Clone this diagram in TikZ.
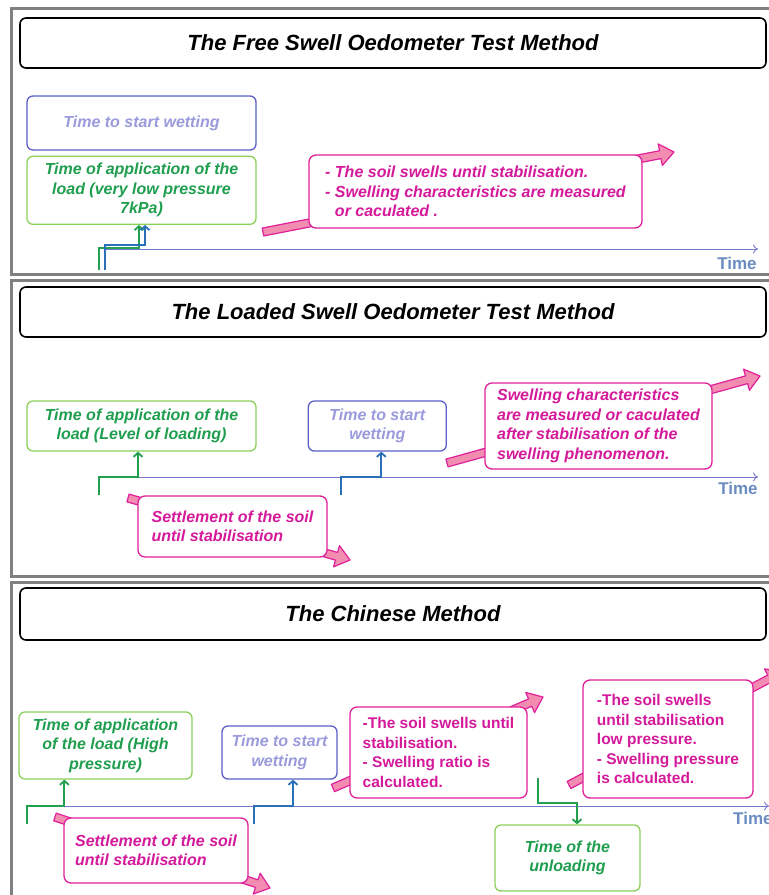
\documentclass[tikz,border=0pt]{standalone}
\usepackage{fontspec}
\setmainfont{Liberation Sans}
\usetikzlibrary{arrows.meta,calc,positioning}

\definecolor{wetblue}{HTML}{5B5FC7}
\definecolor{wettext}{HTML}{9A9ADC}
\definecolor{loadgreen}{HTML}{8CD05A}
\definecolor{loadtext}{HTML}{1E9E4E}
\definecolor{loadline}{HTML}{22A050}
\definecolor{wetline}{HTML}{2A70B8}
\definecolor{notemag}{HTML}{E0209A}
\definecolor{notetext}{HTML}{D4199A}
\definecolor{notepink}{HTML}{F28CB0}
\definecolor{axisblue}{HTML}{7777CC}
\definecolor{timeblue}{HTML}{6A8CC0}
\definecolor{framegray}{HTML}{808080}

\newcommand\boxfont{\fontsize{16}{19.5}\selectfont\bfseries\itshape}
\newcommand\uprfont{\fontsize{15.5}{19.5}\selectfont\bfseries}
\newcommand\titlefont{\fontsize{22}{26}\selectfont\bfseries\itshape}

\tikzstyle{frame} = [draw=framegray, line width=3pt]
\tikzstyle{titlebox} = [draw=black, line width=1.6pt, rounded corners=6pt, minimum width=746pt, minimum height=50pt, font=\titlefont]
\tikzstyle{wetbox} = [draw=wetblue, line width=1.3pt, rounded corners=6pt, fill=white, text=wettext, align=center, font=\boxfont]
\tikzstyle{loadbox} = [draw=loadgreen, line width=1.3pt, rounded corners=6pt, fill=white, text=loadtext, align=center, font=\boxfont]
\tikzstyle{notebox} = [draw=notemag, line width=1.3pt, rounded corners=7pt, fill=white, text=notetext, align=left, font=\boxfont]
\tikzstyle{bigarrow} = [fill=notepink, draw=notemag, line width=1.2pt, line join=round]
\tikzstyle{timeaxis} = [draw=axisblue, line width=0.9pt, -{To[length=5pt,width=9pt]}]
\tikzstyle{timelabel} = [text=timeblue, font=\fontsize{17}{20}\selectfont\bfseries, inner sep=0pt]
\tikzstyle{loadstep} = [draw=loadline, line width=1.8pt, -{Straight Barb[length=4pt,width=9pt]}]
\tikzstyle{wetstep} = [draw=wetline, line width=1.8pt, -{Straight Barb[length=4pt,width=9pt]}]

% thick pink arrow from #1 to #2
\newcommand\blockarrow[2]{%
  \coordinate (ba) at ($(#2)!14pt!(#1)$);
  \filldraw[bigarrow] ($(#1)!4pt!90:(#2)$) -- ($(ba)!4pt!90:(#2)$) -- ($(ba)!11pt!90:(#2)$) -- (#2)
    -- ($(ba)!11pt!-90:(#2)$) -- ($(ba)!4pt!-90:(#2)$) -- ($(#1)!4pt!-90:(#2)$) -- cycle;}

\begin{document}
\begin{tikzpicture}[x=1pt,y=-1pt]
    \useasboundingbox (0,0) rectangle (769,895);
    % panels
    \draw[frame] (11,8) rectangle (790,274);
    \draw[frame] (11,280) rectangle (790,576);
    \draw[frame] (11,582) rectangle (790,910);

    % time axes
    \coordinate (t1a) at (106,249);  \coordinate (t1b) at (758,249);
    \coordinate (t2a) at (99,477);   \coordinate (t2b) at (758,477);
    \coordinate (t3a) at (27,806);   \coordinate (t3b) at (769,806);
    \draw[timeaxis] (t1a) -- (t1b);
    \draw[timeaxis] (t2a) -- (t2b);
    \draw[timeaxis] (t3a) -- (t3b);
    \node (time1)[timelabel] at (737,263) {Time};
    \node (time2)[timelabel] at (738,488) {Time};
    \node (time3)[timelabel, anchor=west] at (733,818) {Time};

    % pink arrows behind the notes
    \coordinate (s1a) at (263,232);  \coordinate (s1b) at (674,152);
    \coordinate (s2a) at (128,498);  \coordinate (s2b) at (350,560);
    \coordinate (s3a) at (447,463);  \coordinate (s3b) at (760,376);
    \coordinate (s4a) at (55,817);   \coordinate (s4b) at (270,888);
    \coordinate (s5a) at (333,788);  \coordinate (s5b) at (543,697);
    \coordinate (s6a) at (569,785);  \coordinate (s6b) at (782,672);
    \blockarrow{s1a}{s1b}
    \blockarrow{s2a}{s2b}
    \blockarrow{s3a}{s3b}
    \blockarrow{s4a}{s4b}
    \blockarrow{s5a}{s5b}
    \blockarrow{s6a}{s6b}

    % create the nodes
    \node (title1)[titlebox] at (393,43) {The Free Swell Oedometer Test Method};
    \node (wet1)[wetbox, minimum width=229pt, minimum height=54pt] at (141.5,123) {Time to start wetting};
    \node (load1)[loadbox, below=5pt of wet1, minimum width=229pt, minimum height=68pt] {Time of application of the\\load (very low pressure\\7kPa)};
    \node (note1)[notebox, minimum width=333pt, minimum height=73pt] at (475.5,191.5) {- The soil swells until stabilisation.\\- Swelling characteristics are measured\\\phantom{- }or caculated .};

    \node (title2)[titlebox] at (393,312) {The Loaded Swell Oedometer Test Method};
    \node (load2)[loadbox, minimum width=229pt, minimum height=50pt] at (141.5,426) {Time of application of the\\load (Level of loading)};
    \node (wet2)[wetbox, right=51pt of load2, minimum width=138pt, minimum height=50pt] {Time to start\\wetting};
    \node (settle2)[notebox, minimum width=189pt, minimum height=61pt] at (232.5,526.5) {Settlement of the soil\\until stabilisation};
    \node (note2)[notebox, minimum width=227pt, minimum height=86pt] at (598.5,426) {Swelling characteristics\\are measured or caculated\\after stabilisation of the\\swelling phenomenon.};

    \node (title3)[titlebox, minimum height=52pt] at (393,614) {The Chinese Method};
    \node (load3)[loadbox, minimum width=173pt, minimum height=67pt] at (105.5,745.5) {Time of application\\of the load (High\\pressure)};
    \node (wet3)[wetbox, minimum width=115pt, minimum height=53pt] at (279.5,752.5) {Time to start\\wetting};
    \node (note3a)[notebox, font=\uprfont, minimum width=177pt, minimum height=91pt] at (438.5,752.5) {-The soil swells until\\stabilisation.\\- Swelling ratio is\\calculated.};
    \node (note3b)[notebox, font=\uprfont, minimum width=170pt, minimum height=118pt] at (668,739) {-The soil swells\\until stabilisation\\low pressure.\\- Swelling pressure\\is calculated.};
    \node (unload3)[loadbox, minimum width=145pt, minimum height=66pt] at (567.5,858) {Time of the\\unloading};
    \node (settle3)[notebox, minimum width=184pt, minimum height=65pt] at (156,850.5) {Settlement of the soil\\until stabilisation};

    % connect the nodes
    \coordinate (g1) at (99,270);  \coordinate (b1) at (105,270);
    \coordinate (g2) at (99,495);  \coordinate (b2) at (341,495);
    \coordinate (g3) at (27,824);  \coordinate (b3) at (254,824);
    \coordinate (u3) at (538,778);
    \draw[loadstep] (g1) -- ++(0,-22) -| ([xshift=-2.5pt]load1.south);
    \draw[wetstep] (b1) -- ++(0,-25) -| ([xshift=3.5pt]load1.south);
    \draw[loadstep] (g2) -- ++(0,-18) -| ([xshift=-3.5pt]load2.south);
    \draw[wetstep] (b2) -- ++(0,-18) -| ([xshift=4pt]wet2.south);
    \draw[loadstep] (g3) -- ++(0,-18) -| ([xshift=46pt]load3.south west);
    \draw[wetstep] (b3) -- ++(0,-18) -| ([xshift=13.5pt]wet3.south);
    \draw[loadstep] (u3) -- ++(0,25) -| ([xshift=9.5pt]unload3.north);

\end{tikzpicture}
\end{document}
